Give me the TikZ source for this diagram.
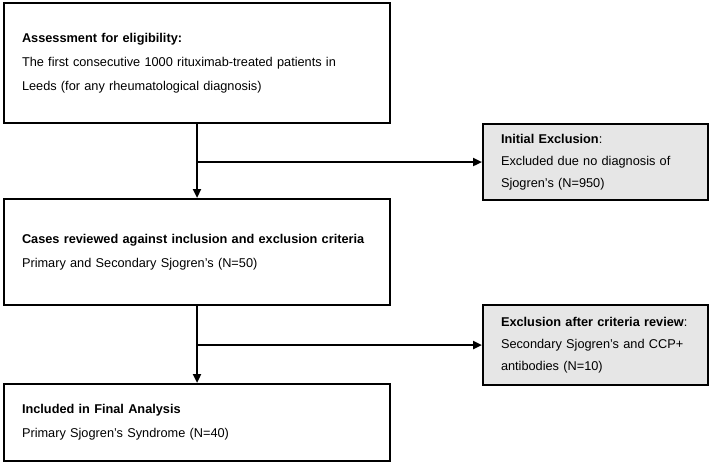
\documentclass[tikz,border=0pt]{standalone}
\usepackage{fontspec}
\setmainfont{Liberation Sans}
\usetikzlibrary{arrows.meta}
\definecolor{exclgray}{RGB}{230,230,230}

\begin{document}
\begin{tikzpicture}[x=1pt,y=-1pt,
  every node/.style={font=\fontsize{12.75}{24}\selectfont},
  flowbox/.style={draw=black,line width=2pt,anchor=north west,align=left,text width=350pt,inner xsep=18pt,inner ysep=0pt,minimum width=386pt},
  exclbox/.style={flowbox,fill=exclgray,text width=189pt,minimum width=225pt,font=\fontsize{12.75}{22}\selectfont},
  flow/.style={line width=2.5pt,-{Triangle[length=9pt,width=8pt]}}]

\useasboundingbox (0,0) rectangle (709,463);

% main path
\node [flowbox,minimum height=120pt] (elig) at (3,2) {\textbf{Assessment for eligibility:}\\The first consecutive 1000 rituximab-treated patients in\\Leeds (for any rheumatological diagnosis)};
\node [flowbox,minimum height=106pt] (review) at (3,198) {\textbf{Cases reviewed against inclusion and exclusion criteria}\\Primary and Secondary Sjogren's (N=50)};
\node [flowbox,minimum height=77pt] (final) at (3,383) {\textbf{Included in Final Analysis}\\Primary Sjogren's Syndrome (N=40)};

% exclusions
\node [exclbox,minimum height=76pt] (initexcl) at (482,123) {\textbf{Initial Exclusion}:\\Excluded due no diagnosis of\\Sjogren's (N=950)};
\node [exclbox,minimum height=80pt] (critexcl) at (482,304) {\mbox{\textbf{Exclusion after criteria review}:}\\Secondary Sjogren's and CCP+\\antibodies (N=10)};

\draw [flow] (elig.south) -- (review.north);
\draw [flow] (elig.south |- initexcl.west) -- (initexcl.west);
\draw [flow] (review.south) -- (final.north);
\draw [flow] (review.south |- critexcl.west) -- (critexcl.west);

\end{tikzpicture}
\end{document}
